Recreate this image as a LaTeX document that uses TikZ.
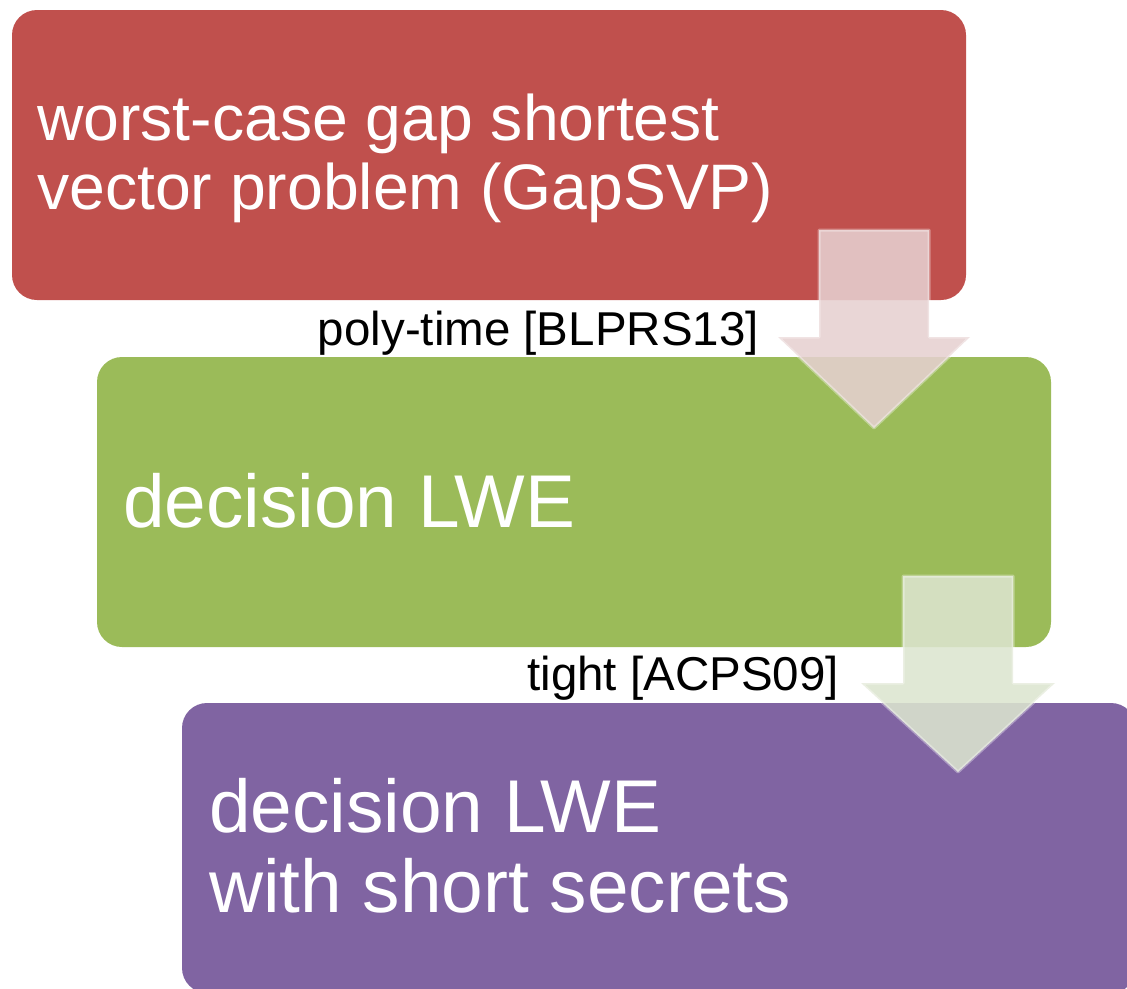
\documentclass[tikz,border=0pt]{standalone}
\usepackage{fontspec}
\setmainfont{Liberation Sans}
\definecolor{boxred}{HTML}{C0504D}
\definecolor{boxgreen}{HTML}{9BBB59}
\definecolor{boxpurple}{HTML}{8064A2}
\definecolor{arrowpink}{RGB}{230,208,208}
\definecolor{arrowsage}{RGB}{220,229,207}
\begin{document}
\begin{tikzpicture}[x=1pt,y=-1pt,
  stage/.style={draw=none, rounded corners=25pt, minimum width=954pt,
    minimum height=290pt, inner sep=0pt, outer sep=0pt},
  big/.style={text=white, inner sep=0pt, anchor=base west,
    font=\fontsize{64.3}{70}\selectfont},
  bigger/.style={text=white, inner sep=0pt, anchor=base west,
    font=\fontsize{74.8}{80}\selectfont},
  note/.style={text=black, inner sep=0pt, anchor=base east,
    font=\fontsize{47.5}{52}\selectfont},
  flow/.style={line width=3pt, line join=round, draw=white,
    draw opacity=0.35, fill opacity=0.88}]
\useasboundingbox (0,0) rectangle (1127,988);
\clip (0,0) rectangle (1127,988);

% the three stages
\node[stage, fill=boxred]    (svp)   at (489,155) {};
\node[stage, fill=boxgreen]  (dlwe)  at (574,502) {};
\node[stage, fill=boxpurple] (slwe)  at (659,848) {};

% stage texts
\node[big] (svpA) at (37,140) {worst-case gap shortest};
\node[big] (svpB) at (37,209) {vector problem (GapSVP)};
\node[bigger] (dlweA) at (123,527) {decision LWE};
\node[bigger] (slweA) at (209,832) {decision LWE};
\node[bigger] (slweB) at (209,912) {with short secrets};

% block arrows between stages
\coordinate (a1) at (874,230);
\coordinate (a2) at (958,576);
\begin{scope}[shift={(a1)}]
  \draw[flow, fill=arrowpink] (-55,0) -- (55,0) -- (55,107) -- (96,107)
    -- (0,198) -- (-96,107) -- (-55,107) -- cycle;
\end{scope}
\begin{scope}[shift={(a2)}]
  \draw[flow, fill=arrowsage] (-55,0) -- (55,0) -- (55,107) -- (97,107)
    -- (0,196) -- (-97,107) -- (-55,107) -- cycle;
\end{scope}

% reduction labels
\node[note] (r1) at (759,345) {poly-time [BLPRS13]};
\node[note] (r2) at (839,690) {tight [ACPS09]};
\end{tikzpicture}
\end{document}
